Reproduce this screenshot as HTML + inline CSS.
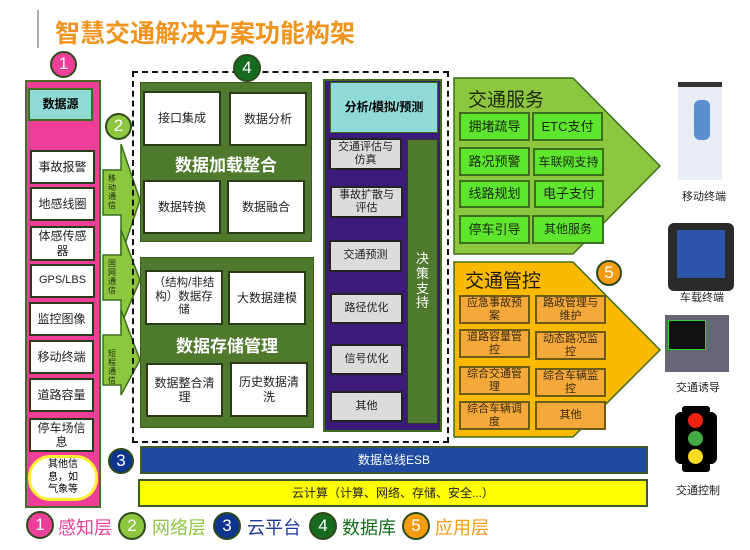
<!DOCTYPE html>
<html><head><meta charset="utf-8"><style>
*{margin:0;padding:0;box-sizing:border-box}
body{width:750px;height:550px;background:#fff;position:relative;overflow:hidden;font-family:"Liberation Sans","Noto Sans CJK SC",sans-serif}
.a{position:absolute}
.c{display:flex;align-items:center;justify-content:center;text-align:center;line-height:1.2}
.w{background:#fff;border:2px solid #2c3a1c;font-size:12px;color:#222;padding:0 6px}
.g{background:#dcdcdc;border:2px solid #222;font-size:11px;color:#222;padding:0 6px}
.gb{background:#5ee62e;border:2px solid #3c6e1c;font-size:13px;color:#1a2a10}
.ob{background:#f4a93a;border:2px solid #6b5a18;font-size:11px;color:#3a2a10;padding:0 6px;line-height:1.1}
.cir{border-radius:50%;border:2px solid #2f4a1c;color:#fff;font-size:17px}
.lg{font-size:18px}
</style></head><body>
<div class="a" style="left:37px;top:10px;width:2px;height:38px;background:#aaa"></div>
<div class="a" style="left:55px;top:14px;font-size:25px;font-weight:bold;color:#f0941e">智慧交通解决方案功能构架</div>

<div class="a" style="left:25px;top:80px;width:76px;height:428px;background:#ee3e9a;border:2px solid #4b6b2a"></div>
<div class="a cir c" style="left:50px;top:51px;width:27px;height:27px;background:#ee3e9a">1</div>
<div class="a c" style="left:28px;top:88px;width:65px;height:33px;background:#8fd9d6;border:2px solid #3c6e1c;font-size:12px;font-weight:bold">数据源</div>
<div class="a c w" style="left:30px;top:150px;width:65px;height:34px">事故报警</div>
<div class="a c w" style="left:30px;top:187px;width:65px;height:34px">地感线圈</div>
<div class="a c w" style="left:30px;top:226px;width:65px;height:35px">体感传感器</div>
<div class="a c w" style="left:30px;top:264px;width:65px;height:34px;font-size:11px">GPS/LBS</div>
<div class="a c w" style="left:29px;top:302px;width:65px;height:34px">监控图像</div>
<div class="a c w" style="left:29px;top:340px;width:65px;height:34px">移动终端</div>
<div class="a c w" style="left:29px;top:378px;width:65px;height:34px">道路容量</div>
<div class="a c w" style="left:29px;top:418px;width:65px;height:34px">停车场信息</div>
<div class="a c" style="left:28px;top:455px;width:70px;height:46px;background:#fff;border:3px solid #ffef30;border-radius:22px;font-size:10px;line-height:1.25">其他信<br>息，如<br>气象等</div>

<svg class="a" style="left:100px;top:140px" width="45" height="260">
<g fill="#8dc63f" stroke="#3c6e1c" stroke-width="1.5">
<polygon points="3,30 21,30 21,4 40,60 21,116 21,75 3,75"/>
<polygon points="3,115 21,115 21,90 40,140 21,185 21,160 3,160"/>
<polygon points="3,195 21,195 21,170 40,220 21,255 21,245 3,245"/>
</g>
<g font-size="8" fill="#1a2a10" text-anchor="middle">
<text x="12" y="41">移</text><text x="12" y="50">动</text><text x="12" y="59">通</text><text x="12" y="68">信</text>
<text x="12" y="126">国</text><text x="12" y="135">网</text><text x="12" y="144">通</text><text x="12" y="153">信</text>
<text x="12" y="216">短</text><text x="12" y="225">程</text><text x="12" y="234">通</text><text x="12" y="243">信</text>
</g></svg>
<div class="a cir c" style="left:105px;top:113px;width:27px;height:27px;background:#8dc63f">2</div>

<div class="a" style="left:132px;top:71px;width:317px;height:372px;border:2.5px dashed #111"></div>
<div class="a cir c" style="left:233px;top:54px;width:28px;height:28px;background:#176b1f">4</div>

<div class="a" style="left:140px;top:82px;width:172px;height:160px;background:#4f7a2e;border:1px solid #3a5a20"></div>
<div class="a c w" style="left:143px;top:91px;width:78px;height:55px">接口集成</div>
<div class="a c w" style="left:229px;top:92px;width:78px;height:54px">数据分析</div>
<div class="a" style="left:140px;top:151px;width:172px;text-align:center;color:#fff;font-size:17px;font-weight:bold">数据加载整合</div>
<div class="a c w" style="left:143px;top:180px;width:78px;height:54px">数据转换</div>
<div class="a c w" style="left:227px;top:180px;width:78px;height:54px">数据融合</div>

<div class="a" style="left:140px;top:257px;width:174px;height:171px;background:#4f7a2e;border:1px solid #3a5a20"></div>
<div class="a c w" style="left:145px;top:270px;width:78px;height:55px;font-size:11.5px">（结构/非结构）数据存储</div>
<div class="a c w" style="left:228px;top:271px;width:78px;height:54px">大数据建模</div>
<div class="a" style="left:140px;top:332px;width:174px;text-align:center;color:#fff;font-size:17px;font-weight:bold">数据存储管理</div>
<div class="a c w" style="left:146px;top:363px;width:77px;height:54px">数据整合清理</div>
<div class="a c w" style="left:230px;top:362px;width:78px;height:55px">历史数据清洗</div>

<div class="a" style="left:323px;top:79px;width:119px;height:353px;background:#3b1a7a;border:2px solid #3c6e1c"></div>
<div class="a c" style="left:330px;top:82px;width:108px;height:51px;background:#8fd9d6;border:1px solid #3c6e1c;font-size:12px;font-weight:bold">分析/模拟/预测</div>
<div class="a c" style="left:407px;top:139px;width:31px;height:285px;background:#4f7a2e;border:1px solid #333;color:#fff;font-size:13px;line-height:1.15">决<br>策<br>支<br>持</div>
<div class="a c g" style="left:329px;top:138px;width:73px;height:32px">交通评估与仿真</div>
<div class="a c g" style="left:330px;top:186px;width:73px;height:32px">事故扩散与评估</div>
<div class="a c g" style="left:329px;top:240px;width:73px;height:32px">交通预测</div>
<div class="a c g" style="left:330px;top:293px;width:73px;height:31px">路径优化</div>
<div class="a c g" style="left:330px;top:344px;width:73px;height:31px">信号优化</div>
<div class="a c g" style="left:330px;top:391px;width:73px;height:31px">其他</div>

<svg class="a" style="left:450px;top:75px" width="215" height="370">
<polygon points="4,3 123,3 210,91 123,179 4,179" fill="#8dc63f" stroke="#3c6e1c" stroke-width="1.5"/>
<polygon points="4,187 123,187 210,275 123,362 4,362" fill="#fbb900" stroke="#3c6e1c" stroke-width="1.5"/>
</svg>
<div class="a" style="left:468px;top:85px;font-size:19px;color:#1a2a10">交通服务</div>
<div class="a c gb" style="left:459px;top:112px;width:71px;height:29px">拥堵疏导</div>
<div class="a c gb" style="left:532px;top:112px;width:71px;height:29px">ETC支付</div>
<div class="a c gb" style="left:459px;top:147px;width:71px;height:29px">路况预警</div>
<div class="a c gb" style="left:533px;top:148px;width:71px;height:28px;font-size:12px">车联网支持</div>
<div class="a c gb" style="left:459px;top:180px;width:71px;height:28px">线路规划</div>
<div class="a c gb" style="left:534px;top:180px;width:70px;height:28px">电子支付</div>
<div class="a c gb" style="left:459px;top:215px;width:71px;height:29px">停车引导</div>
<div class="a c gb" style="left:532px;top:215px;width:72px;height:29px;font-size:12px">其他服务</div>

<div class="a" style="left:465px;top:266px;font-size:19px;color:#1a1a10">交通管控</div>
<div class="a cir c" style="left:596px;top:260px;width:26px;height:26px;background:#f39c12">5</div>
<div class="a c ob" style="left:459px;top:295px;width:71px;height:29px">应急事故预案</div>
<div class="a c ob" style="left:535px;top:295px;width:71px;height:29px">路政管理与维护</div>
<div class="a c ob" style="left:459px;top:329px;width:71px;height:29px">道路容量管控</div>
<div class="a c ob" style="left:535px;top:331px;width:71px;height:29px">动态路况监控</div>
<div class="a c ob" style="left:459px;top:366px;width:71px;height:29px">综合交通管理</div>
<div class="a c ob" style="left:535px;top:368px;width:71px;height:29px">综合车辆监控</div>
<div class="a c ob" style="left:459px;top:401px;width:71px;height:29px">综合车辆调度</div>
<div class="a c ob" style="left:535px;top:401px;width:71px;height:29px">其他</div>

<div class="a" style="left:678px;top:82px;width:44px;height:98px;background:#e8eef4;border-top:5px solid #333"></div>
<div class="a" style="left:694px;top:100px;width:16px;height:40px;background:#5a8fd0;border-radius:6px"></div>
<div class="a" style="left:682px;top:188px;font-size:11px;color:#222">移动终端</div>
<div class="a" style="left:668px;top:223px;width:66px;height:68px;background:#2a2a2a;border-radius:6px"></div>
<div class="a" style="left:677px;top:230px;width:48px;height:48px;background:#2a55a8"></div>
<div class="a" style="left:680px;top:289px;font-size:11px;color:#222">车载终端</div>
<div class="a" style="left:665px;top:315px;width:64px;height:57px;background:#667"></div>
<div class="a" style="left:668px;top:320px;width:38px;height:30px;background:#111;border:1px solid #3c3"></div>
<div class="a" style="left:676px;top:379px;font-size:11px;color:#222">交通诱导</div>
<div class="a" style="left:682px;top:406px;width:28px;height:66px;background:#000;border-radius:3px"></div>
<div class="a" style="left:675px;top:412px;width:42px;height:52px;border-left:7px solid #000;border-right:7px solid #000;border-radius:6px"></div>
<div class="a" style="left:688px;top:413px;width:15px;height:15px;background:#e21;border-radius:50%"></div>
<div class="a" style="left:688px;top:431px;width:15px;height:15px;background:#4a4;border-radius:50%"></div>
<div class="a" style="left:688px;top:449px;width:15px;height:15px;background:#fd2;border-radius:50%"></div>
<div class="a" style="left:676px;top:482px;font-size:11px;color:#222">交通控制</div>

<div class="a cir c" style="left:108px;top:448px;width:26px;height:26px;background:#0d3590">3</div>
<div class="a c" style="left:140px;top:446px;width:508px;height:28px;background:#1e4aa0;border:2px solid #3c5a2a;color:#fff;font-size:12px">数据总线ESB</div>
<div class="a c" style="left:138px;top:479px;width:510px;height:28px;background:#ffff00;border:2px solid #3c5a2a;color:#222;font-size:12px">云计算（计算、网络、存储、安全...）</div>

<div class="a cir c" style="left:26px;top:511px;width:28px;height:28px;background:#ee3e9a">1</div>
<div class="a lg" style="left:58px;top:514px;color:#ee3e9a">感知层</div>
<div class="a cir c" style="left:118px;top:512px;width:28px;height:28px;background:#8dc63f">2</div>
<div class="a lg" style="left:152px;top:514px;color:#8dc63f">网络层</div>
<div class="a cir c" style="left:213px;top:512px;width:28px;height:28px;background:#0d3590">3</div>
<div class="a lg" style="left:247px;top:514px;color:#1e3a9a">云平台</div>
<div class="a cir c" style="left:309px;top:512px;width:28px;height:28px;background:#176b1f">4</div>
<div class="a lg" style="left:342px;top:514px;color:#176b1f">数据库</div>
<div class="a cir c" style="left:402px;top:512px;width:28px;height:28px;background:#f39c12">5</div>
<div class="a lg" style="left:435px;top:514px;color:#f39c12">应用层</div>
</body></html>
